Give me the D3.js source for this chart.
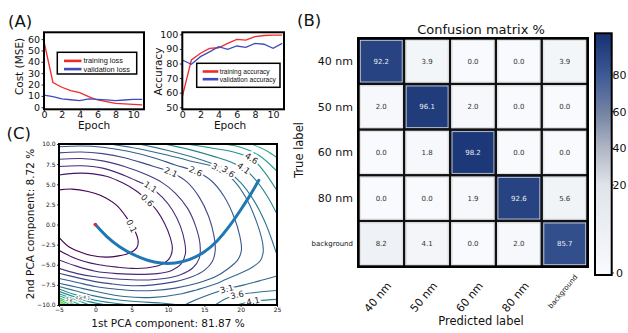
<!DOCTYPE html>
<html>
<head>
<meta charset="utf-8">
<script src="https://cdn.jsdelivr.net/npm/d3@7"></script>
<style>
  body { margin: 0; background: #fff; }
  svg text { font-family: "DejaVu Sans", sans-serif; }
  svg text.leg { font-family: "Liberation Sans", Arial, sans-serif; }
</style>
</head>
<body>
<div id="plotdiv"></div>
<script>
// ---- data ----
var epochs = [0, 1, 2, 3, 4, 5, 6, 7, 8, 9, 10, 11];
var epochTicks = [0, 2, 4, 6, 8, 10];
var trainLoss = [57.9, 21.8, 17.6, 14.7, 12.9, 9.4, 6.4, 5.0, 3.5, 3.0, 2.6, 2.1];
var valLoss   = [10.6, 9.4, 7.3, 6.6, 5.9, 7.3, 6.9, 6.5, 5.9, 6.4, 6.9, 6.9];
var lossTicks = [0, 10, 20, 30, 40, 50, 60];
var trainAcc = [57.3, 82.4, 87.0, 90.4, 90.8, 93.8, 96.6, 96.1, 98.4, 99.2, 99.5, 99.5];
var valAcc   = [82.4, 79.5, 84.7, 88.0, 91.5, 89.7, 92.0, 91.1, 93.8, 93.2, 90.4, 93.8];
var accTicks = [50, 60, 70, 80, 90, 100];

var classNames = ["40 nm", "50 nm", "60 nm", "80 nm", "background"];
var confValues = [
  [92.2, 3.9, 0.0, 0.0, 3.9],
  [2.0, 96.1, 2.0, 0.0, 0.0],
  [0.0, 1.8, 98.2, 0.0, 0.0],
  [0.0, 0.0, 1.9, 92.6, 5.6],
  [8.2, 4.1, 0.0, 2.0, 85.7]
];
var colorbarTicks = [0, 20, 40, 60, 80];

var pcaXTicks = [-5, 0, 5, 10, 15, 20, 25];
var pcaYTicks = [-10, -7.5, -5, -2.5, 0, 2.5, 5, 7.5, 10];

// optimisation path in PCA coordinates
var pcaPath = [[0,0],[1.5,-1.5],[3.3,-2.8],[5.3,-3.8],[7.2,-4.5],[9,-4.85],[11,-4.85],[13,-4.4],
  [15,-3.5],[16.8,-2.1],[18.5,-0.2],[20,1.8],[21.3,3.6],[22.5,5.5]];

// contour lines (data coordinates)
var c01 = [[-5,4.3],[-3.2,4.4],[-1,4.1],[0.6,3.65],[2.9,2.4],[4.5,0.6],[5.5,-0.9],[5.9,-2.1],[5.7,-2.9],
  [4.8,-3.5],[3.2,-3.9],[1.5,-4.05],[-0.5,-3.85],[-2,-3.45],[-3.6,-2.8],[-5,-1.6]];
var c06 = [[-5,6.15],[-3,6.35],[-1,6.35],[1.5,6.0],[3.8,5.15],[5.6,4.2],[7.15,3.0],[8.5,1.7],[9.6,0.0],
  [10.3,-1.6],[10.6,-3.0],[10.2,-4.2],[9,-5.0],[7,-5.4],[5,-5.45],[3,-5.3],[0.5,-5.0],[-1.5,-4.6],[-3.3,-4.0],[-5,-3.2]];
var c11 = [[-5,7.2],[-2,7.3],[1,7.0],[4,6.1],[6,5.3],[7.6,4.6],[9.2,3.4],[10.6,1.8],[11.7,-0.2],[12.3,-2.2],
  [12.4,-3.6],[11.8,-4.9],[10.5,-5.7],[8.5,-6.1],[6,-6.2],[3,-6.1],[0,-5.8],[-2.5,-5.2],[-5,-4.4]];
var c16 = [[-5,8.1],[-2,8.2],[1,7.9],[4,7.2],[7,6.2],[9.2,5.2],[11,3.9],[12.7,2.0],[13.8,-0.2],[14.4,-2.4],
  [14.3,-4.2],[13.4,-5.4],[11.8,-6.2],[9.5,-6.7],[6.5,-6.9],[3.5,-6.8],[0,-6.5],[-2.5,-6.1],[-5,-5.45]];
var c21 = [[-5,8.9],[-2,9.0],[1,8.8],[4,8.3],[7,7.5],[10.4,6.5],[12.6,5.3],[14.3,3.4],[15.6,1.0],[16.3,-1.3],
  [16.5,-3.2],[16.1,-4.6],[15,-5.7],[13.3,-6.5],[11,-7.1],[8,-7.5],[5,-7.6],[2,-7.35],[0,-7.1],[-2.5,-6.6],[-5,-6.06]];
var c26 = [[-5,9.66],[-2,9.75],[1,9.6],[4.5,9.1],[8,8.3],[11,7.4],[13.8,6.6],[16,5.4],[17.7,3.5],[19.1,0.9],
  [19.9,-1.5],[20.1,-3.2],[19.6,-4.4],[18.4,-5.4],[16.5,-6.5],[14,-7.3],[11,-7.9],[8,-8.2],[5,-8.2],[2,-7.95],
  [0,-7.7],[-2.5,-7.2],[-5,-6.7]];
var c31 = [[2,10],[6,9.4],[10,8.6],[13.5,7.8],[16.9,7.0],[19,5.5],[20.8,3.2],[22.2,0.3],[23,-2.2],[23.1,-3.4],
  [22.7,-4.5],[21.6,-5.3],[20.1,-6.0],[18,-6.8],[16.5,-7.4],[14,-8.1],[11.9,-8.6],[8,-9.05],[4,-8.95],[0,-8.3],
  [-2.5,-7.8],[-5,-7.3]];
var c31b = [[12.3,-10],[14,-9.3],[16,-8.6],[18.1,-8.0],[20.5,-7.5],[23,-6.9],[25,-6.4]];
var c36a = [[6,10],[10,9.2],[14,8.2],[16.5,7.4],[18.3,6.56],[20,5.2],[21.8,3.0],[23.3,0.4],[24.4,-2.2],[25,-3.8]];
var c36b = [[11.5,-10],[9,-9.75],[6,-9.6],[3,-9.35],[0,-8.9],[-2.5,-8.3],[-5,-7.7]];
var c36c = [[16.5,-10],[18,-9.2],[19.5,-8.75],[22,-8.45],[25,-8.2]];
var c41a = [[9.5,10],[13,9.3],[16.5,8.4],[18.8,7.7],[20.4,6.98],[22,5.6],[23.6,3.6],[25,1.3]];
var c41b = [[5,-10],[2.5,-9.75],[0,-9.4],[-2.5,-8.8],[-5,-8.0]];
var c41c = [[19.5,-10],[21,-9.62],[22.5,-9.45],[25,-9.3]];
var c46a = [[12.5,10],[16,9.5],[19,9.0],[21.5,8.2],[23.2,6.6],[25,4.2]];
var c46b = [[1.5,-10],[-1,-9.55],[-3,-8.95],[-5,-8.3]];
var c51a = [[17.5,10],[20,9.6],[22.5,8.6],[25,6.6]];
var c51b = [[-0.8,-10],[-2.7,-9.35],[-5,-8.6]];
var c56a = [[21.5,10],[23.5,9.2],[25,8.3]];
var c56b = [[-2,-10],[-3.5,-9.4],[-5,-8.85]];
var c61 = [[-2.8,-10],[-4,-9.5],[-5,-9.1]];
var c66 = [[-3.4,-10],[-4.2,-9.65],[-5,-9.3]];
var c71 = [[-3.8,-10],[-4.4,-9.78],[-5,-9.5]];
var c76 = [[-4.2,-10],[-5,-9.65]];
var c81 = [[-4.5,-10],[-5,-9.8]];
var c86 = [[-4.75,-10],[-5,-9.9]];

var contourLines = [
  {level: 0.1, pts: c01}, {level: 0.6, pts: c06}, {level: 1.1, pts: c11}, {level: 1.6, pts: c16},
  {level: 2.1, pts: c21}, {level: 2.6, pts: c26}, {level: 3.1, pts: c31}, {level: 3.1, pts: c31b},
  {level: 3.6, pts: c36a}, {level: 3.6, pts: c36b}, {level: 3.6, pts: c36c},
  {level: 4.1, pts: c41a}, {level: 4.1, pts: c41b}, {level: 4.1, pts: c41c},
  {level: 4.6, pts: c46a}, {level: 4.6, pts: c46b}, {level: 5.1, pts: c51a}, {level: 5.1, pts: c51b},
  {level: 5.6, pts: c56a}, {level: 5.6, pts: c56b}, {level: 6.1, pts: c61}, {level: 6.6, pts: c66},
  {level: 7.1, pts: c71}, {level: 7.6, pts: c76}, {level: 8.1, pts: c81}, {level: 8.6, pts: c86}
];
// inline labels: level and where it sits
var contourLabels = [[0.1, 5.0, -0.2], [0.6, 7.15, 3.0], [1.1, 7.6, 4.65], [2.1, 10.4, 6.5], [2.6, 13.8, 6.6],
  [3.1, 16.9, 7.0], [3.6, 18.3, 6.56], [4.1, 20.4, 6.98], [4.6, 21.5, 8.2],
  [3.1, 18.1, -8.0], [3.6, 19.5, -8.75], [4.1, 21.7, -9.52]];
var cornerLabels = [[4.1, -1.2, -9.1], [4.6, -2.3, -9.15], [5.6, -3.6, -9.37]];

// ---- canvas ----
var svg = d3.select("#plotdiv").append("svg")
  .attr("width", 628)
  .attr("height", 333);
var defs = svg.append("defs");

function styleAxis(sel, fs) {
  sel.attr("font-family", '"DejaVu Sans", sans-serif').attr("font-size", fs);
  sel.select(".domain").remove();
  sel.selectAll(".tick line").attr("stroke", "#000").attr("stroke-width", 0.8);
  sel.selectAll(".tick text").attr("fill", "#111");
}
function frame(x0, y0, x1, y1, w) {
  svg.append("rect").attr("x", x0).attr("y", y0).attr("width", x1 - x0).attr("height", y1 - y0)
    .attr("fill", "none").attr("stroke", "#000").attr("stroke-width", w);
}
function label(x, y, txt, fs, rot, anchor) {
  var t = svg.append("text").attr("x", x).attr("y", y).attr("font-size", fs)
    .attr("text-anchor", anchor || "middle").attr("fill", "#111").text(txt);
  if (rot) t.attr("transform", "rotate(" + rot + "," + x + "," + y + ")");
  return t;
}

var red = "#f02a2a", blue = "#3f4bbd";

// ---- panel A: loss ----
var xLoss = d3.scaleLinear().domain([0, 11.2]).range([44, 144]);
var yLoss = d3.scaleLinear().domain([-1.8, 66]).range([109.3, 32.3]);
svg.append("g").attr("transform", "translate(0,109.3)")
  .call(d3.axisBottom(xLoss).tickValues(epochTicks).tickSize(1.5).tickPadding(0)).call(styleAxis, 9.5);
svg.append("g").attr("transform", "translate(44,0)")
  .call(d3.axisLeft(yLoss).tickValues(lossTicks).tickSize(2.5).tickPadding(1.5)).call(styleAxis, 9.5);

var lossLine = d3.line().x(function(d, i) { return xLoss(epochs[i]); }).y(function(d) { return yLoss(d); });
svg.append("path").attr("d", lossLine(trainLoss)).attr("fill", "none").attr("stroke", red).attr("stroke-width", 1.3);
svg.append("path").attr("d", lossLine(valLoss)).attr("fill", "none").attr("stroke", blue).attr("stroke-width", 1.3);
frame(44, 32.3, 144, 109.3, 2);

svg.append("rect").attr("x", 57.3).attr("y", 52.3).attr("width", 79.4).attr("height", 21.7)
  .attr("fill", "#fff").attr("stroke", "#000").attr("stroke-width", 1.5);
[["training loss", red, 60.9], ["validation loss", blue, 69.1]].forEach(function(e) {
  svg.append("line").attr("x1", 64).attr("x2", 81.5).attr("y1", e[2]).attr("y2", e[2])
    .attr("stroke", e[1]).attr("stroke-width", 2.6);
  label(83.5, e[2] + 2.5, e[0], 7.4, 0, "start").attr("class", "leg");
});
label(19.5, 66.5, "Cost (MSE)", 10.5, -90).attr("dy", "0.35em");
label(94, 128.5, "Epoch", 10.5);

// ---- panel A: accuracy ----
var xAcc = d3.scaleLinear().domain([0, 11.2]).range([182.3, 284]);
var yAcc = d3.scaleLinear().domain([48.6, 101.4]).range([109.3, 32.3]);
svg.append("g").attr("transform", "translate(0,109.3)")
  .call(d3.axisBottom(xAcc).tickValues(epochTicks).tickSize(1.5).tickPadding(0)).call(styleAxis, 9.5);
svg.append("g").attr("transform", "translate(182.3,0)")
  .call(d3.axisLeft(yAcc).tickValues(accTicks).tickSize(2.5).tickPadding(1.5)).call(styleAxis, 9.5);
var accLine = d3.line().x(function(d, i) { return xAcc(epochs[i]); }).y(function(d) { return yAcc(d); });
svg.append("path").attr("d", accLine(trainAcc)).attr("fill", "none").attr("stroke", red).attr("stroke-width", 1.3);
svg.append("path").attr("d", accLine(valAcc)).attr("fill", "none").attr("stroke", blue).attr("stroke-width", 1.3);
frame(182.3, 32.3, 284, 109.3, 2);

svg.append("rect").attr("x", 196.7).attr("y", 63.3).attr("width", 83.3).attr("height", 24)
  .attr("fill", "#fff").attr("stroke", "#000").attr("stroke-width", 1.5);
[["training accuracy", red, 71.5], ["validation accuracy", blue, 79.2]].forEach(function(e) {
  svg.append("line").attr("x1", 202.7).attr("x2", 218.3).attr("y1", e[2]).attr("y2", e[2])
    .attr("stroke", e[1]).attr("stroke-width", 2.6);
  label(219.8, e[2] + 2.3, e[0], 6.6, 0, "start").attr("class", "leg");
});
label(158.5, 71.5, "Accuracy", 10.5, -90).attr("dy", "0.35em");
label(230, 128.5, "Epoch", 10.5);

// ---- panel B: confusion matrix ----
var cScale = d3.scaleLinear()
  .domain([0, 20, 40, 60, 80, 100])
  .range(["#f8fafd", "#e0e3e9", "#b0b6c3", "#7282a3", "#3c5a95", "#1a3575"]);
var xCm = d3.scaleBand().domain(classNames).range([358.3, 587.7]);
var yCm = d3.scaleBand().domain(classNames).range([38.3, 266.7]);
var gCm = svg.append("g");
confValues.forEach(function(row, r) {
  row.forEach(function(v, c) {
    var x = xCm(classNames[c]), y = yCm(classNames[r]), bw = xCm.bandwidth(), bh = yCm.bandwidth();
    gCm.append("rect").attr("x", x).attr("y", y).attr("width", bw).attr("height", bh)
      .attr("fill", cScale(v)).attr("stroke", "#111").attr("stroke-width", 2.2);
    gCm.append("rect").attr("x", x + 2).attr("y", y + 2).attr("width", bw - 4).attr("height", bh - 4)
      .attr("fill", "none").attr("stroke", "#d8d8d8").attr("stroke-width", 0.8);
    gCm.append("text").attr("x", x + bw / 2).attr("y", y + bh / 2).attr("dy", "0.35em")
      .attr("text-anchor", "middle").attr("font-size", 7)
      .attr("fill", v > 50 ? "#e8ecf4" : "#333").text(v.toFixed(1));
  });
});
frame(358.3, 38.3, 587.7, 266.7, 2.5);
classNames.forEach(function(n) {
  var small = n === "background";
  label(353, yCm(n) + yCm.bandwidth() / 2, n, small ? 7 : 11, 0, "end").attr("dy", "0.35em");
  var cx = xCm(n) + xCm.bandwidth() / 2 + (small ? -2 : -3.5);
  var cy = small ? 291.5 : 297;
  label(cx, cy, n, small ? 7 : 11, -50).attr("dy", "0.35em");
});
label(481, 34, "Confusion matrix %", 13);
label(481, 325, "Predicted label", 11.5);
label(298.5, 150, "True label", 11.5, -90).attr("dy", "0.35em");

// colorbar (stops must go top to bottom, i.e. from high values to low)
var cbScale = d3.scaleLinear().domain([0, 20, 100]).range([273, 185, 38.3]);
var cbTop = 33.3, cbBot = 275;
var grad = defs.append("linearGradient").attr("id", "cbGrad")
  .attr("x1", 0).attr("y1", 0).attr("x2", 0).attr("y2", 1);
d3.range(100, -1, -5).forEach(function(v) {
  grad.append("stop").attr("offset", (cbScale(v) - cbTop) / (cbBot - cbTop)).attr("stop-color", cScale(v));
});
svg.append("rect").attr("x", 595).attr("y", cbTop).attr("width", 16.7).attr("height", cbBot - cbTop)
  .attr("fill", "url(#cbGrad)");
frame(595, cbTop, 611.7, cbBot, 2);
colorbarTicks.forEach(function(t) {
  svg.append("line").attr("x1", 611.7).attr("x2", 614).attr("y1", cbScale(t)).attr("y2", cbScale(t))
    .attr("stroke", "#000").attr("stroke-width", 0.8);
  label(t === 0 ? 616 : 612.5, cbScale(t), t, 11, 0, "start").attr("dy", "0.35em");
});

// ---- panel C: loss landscape ----
var xPca = d3.scaleLinear().domain([-5, 25]).range([59, 277]);
var yPca = d3.scaleLinear().domain([-10, 10]).range([305, 144]);
defs.append("clipPath").attr("id", "pcaClip").append("rect")
  .attr("x", 59).attr("y", 144).attr("width", 218).attr("height", 161);
var gC = svg.append("g").attr("clip-path", "url(#pcaClip)");
var cLine = d3.line().x(function(d) { return xPca(d[0]); }).y(function(d) { return yPca(d[1]); })
  .curve(d3.curveCatmullRom.alpha(0.5));
contourLines.forEach(function(c) {
  gC.append("path").attr("d", cLine(c.pts)).attr("fill", "none")
    .attr("stroke", d3.interpolateViridis((c.level - 0.1) / 9)).attr("stroke-width", 1.1);
});

function labelAngle(level, lx, ly) {
  var best = null, bd = Infinity;
  contourLines.forEach(function(c) {
    if (c.level !== level) return;
    c.pts.forEach(function(p, i) {
      var d = Math.hypot(xPca(p[0]) - xPca(lx), yPca(p[1]) - yPca(ly));
      if (d < bd) { bd = d; best = {pts: c.pts, i: i}; }
    });
  });
  var a = best.pts[Math.max(0, best.i - 1)], b = best.pts[Math.min(best.pts.length - 1, best.i + 1)];
  var ang = Math.atan2(yPca(b[1]) - yPca(a[1]), xPca(b[0]) - xPca(a[0])) * 180 / Math.PI;
  if (ang > 90) ang -= 180;
  if (ang < -90) ang += 180;
  return ang;
}
function contourText(l, fs) {
  var x = xPca(l[1]), y = yPca(l[2]);
  gC.append("text").attr("x", x).attr("y", y).attr("dy", "0.35em").attr("text-anchor", "middle")
    .attr("font-size", fs).attr("fill", "#222")
    .attr("stroke", "#fff").attr("stroke-width", fs * 0.45).attr("paint-order", "stroke")
    .attr("transform", "rotate(" + labelAngle(l[0], l[1], l[2]) + "," + x + "," + y + ")")
    .text(l[0].toFixed(1));
}
contourLabels.forEach(function(l) { contourText(l, 8.5); });
cornerLabels.forEach(function(l) { contourText(l, 4.5); });

gC.append("path").attr("d", d3.line().x(function(d) { return xPca(d[0]); }).y(function(d) { return yPca(d[1]); })
  .curve(d3.curveBasis)(pcaPath))
  .attr("fill", "none").attr("stroke", "#1f77b4").attr("stroke-width", 3).attr("stroke-linecap", "round");
gC.append("circle").attr("cx", xPca(0)).attr("cy", yPca(0)).attr("r", 1.8).attr("fill", "#e8262b");

svg.append("g").attr("transform", "translate(0,305)")
  .call(d3.axisBottom(xPca).tickValues(pcaXTicks).tickFormat(d3.format("d")).tickSize(2).tickPadding(1))
  .call(styleAxis, 6);
svg.append("g").attr("transform", "translate(59,0)")
  .call(d3.axisLeft(yPca).tickValues(pcaYTicks).tickFormat(d3.format(".1f")).tickSize(2).tickPadding(1.5))
  .call(styleAxis, 6);
frame(59, 144, 277, 305, 2);
label(168, 327, "1st PCA component: 81.87 %", 10.5);
label(30, 224, "2nd PCA component: 8.72 %", 10.5, -90).attr("dy", "0.35em");

// panel letters
label(8, 27, "(A)", 16.5, 0, "start");
label(297, 26, "(B)", 16.5, 0, "start");
label(6.5, 139, "(C)", 16.5, 0, "start");
</script>
</body>
</html>
